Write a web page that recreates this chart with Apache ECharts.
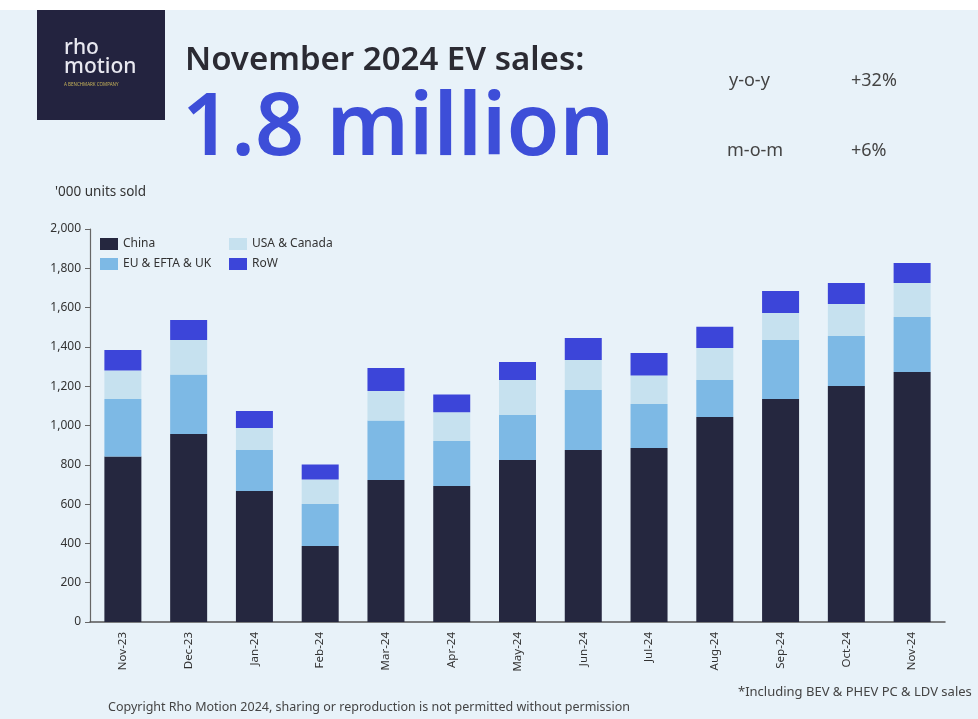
<!DOCTYPE html>
<html>
<head>
<meta charset="utf-8">
<script src="https://cdn.jsdelivr.net/npm/echarts@6/dist/echarts.min.js"></script>
<style>
html,body{margin:0;padding:0;background:#e8f2f9;}
#c{width:978px;height:719px;}
</style>
</head>
<body>
<div id="c"></div>
<script>
var months = ['Nov-23','Dec-23','Jan-24','Feb-24','Mar-24','Apr-24','May-24','Jun-24','Jul-24','Aug-24','Sep-24','Oct-24','Nov-24'];
var china = [842, 957, 667, 387, 723, 692, 824, 875, 886, 1043, 1135, 1201, 1272];
var euEftaUk = [293, 303, 208, 213, 302, 229, 230, 306, 223, 188, 300, 254, 280];
var usaCanada = [145, 175, 112, 125, 151, 146, 177, 152, 146, 163, 138, 163, 173];
var row = [104, 102, 87, 77, 117, 91, 92, 112, 114, 109, 111, 107, 102];
var yTicks = [0, 200, 400, 600, 800, 1000, 1200, 1400, 1600, 1800, 2000];

var FONT = '"Noto Sans", "DejaVu Sans", sans-serif';
var chart = echarts.init(document.getElementById('c'));

function bar(name, data, color) {
  return {
    name: name, type: 'bar', stack: 'total', data: data,
    barWidth: 37,
    itemStyle: { color: color },
    emphasis: { disabled: true }
  };
}

chart.setOption({
  backgroundColor: '#e8f2f9',
  animation: false,
  textStyle: { fontFamily: FONT },
  grid: { left: 90, right: 33, top: 229, bottom: 97, containLabel: false },
  legend: [
    {
      data: ['China', 'EU & EFTA & UK'], orient: 'vertical', left: 95, top: 233,
      itemWidth: 18, itemHeight: 12, itemGap: 8, icon: 'rect',
      textStyle: { fontSize: 12, color: '#333', fontFamily: FONT }
    },
    {
      data: ['USA & Canada', 'RoW'], orient: 'vertical', left: 224, top: 233,
      itemWidth: 18, itemHeight: 12, itemGap: 8, icon: 'rect',
      textStyle: { fontSize: 12, color: '#333', fontFamily: FONT }
    }
  ],
  xAxis: {
    type: 'category', data: months,
    axisLine: { lineStyle: { color: '#555', width: 1.5 } },
    axisTick: { show: false },
    axisLabel: { rotate: 90, fontSize: 11.5, color: '#333', margin: 10, fontFamily: FONT }
  },
  yAxis: {
    type: 'value', min: yTicks[0], max: yTicks[yTicks.length - 1], interval: 200,
    axisLine: { show: true, lineStyle: { color: '#666', width: 1.2 } },
    axisTick: { show: true, length: 5, lineStyle: { color: '#666' } },
    splitLine: { show: false },
    axisLabel: {
      fontSize: 12, color: '#333', margin: 9, fontFamily: FONT,
      formatter: function (v) { return v.toLocaleString('en-US'); }
    }
  },
  series: [
    bar('China', china, '#25273f'),
    bar('EU & EFTA & UK', euEftaUk, '#7db9e5'),
    bar('USA & Canada', usaCanada, '#c6e1ef'),
    bar('RoW', row, '#3c45d9')
  ],
  graphic: [
    { type: 'rect', left: 0, top: 0, shape: { width: 978, height: 10 }, style: { fill: '#ffffff' }, silent: true },
    { type: 'rect', left: 37, top: 10, shape: { width: 128, height: 110 }, style: { fill: '#23233f' }, silent: true },
    { type: 'text', left: 64, top: 38, style: { text: 'rho\nmotion', fill: '#e8e8f0', font: '500 21px ' + FONT, lineHeight: 19 } },
    { type: 'text', left: 64, top: 82, style: { text: 'A BENCHMARK COMPANY', fill: '#c8b45a', font: '4.5px ' + FONT } },
    { type: 'text', left: 185, top: 44, style: { text: 'November 2024 EV sales:', fill: '#2b2b33', font: '600 33px ' + FONT } },
    { type: 'text', left: 182, top: 87, style: { text: '1.8 million', fill: '#3d4ed8', font: '600 86px ' + FONT } },
    { type: 'text', left: 729, top: 72, style: { text: 'y-o-y', fill: '#444', font: '18px ' + FONT } },
    { type: 'text', left: 851, top: 72, style: { text: '+32%', fill: '#444', font: '18px ' + FONT } },
    { type: 'text', left: 727, top: 142, style: { text: 'm-o-m', fill: '#444', font: '18px ' + FONT } },
    { type: 'text', left: 851, top: 142, style: { text: '+6%', fill: '#444', font: '18px ' + FONT } },
    { type: 'text', left: 55, top: 185, style: { text: "'000 units sold", fill: '#333', font: '13.5px ' + FONT } },
    { type: 'text', left: 108, top: 701, style: { text: 'Copyright Rho Motion 2024, sharing or reproduction is not permitted without permission', fill: '#444', font: '12.5px ' + FONT } },
    { type: 'text', left: 738, top: 686, style: { text: '*Including BEV & PHEV PC & LDV sales', fill: '#444', font: '13px ' + FONT } }
  ]
});
</script>
</body>
</html>
